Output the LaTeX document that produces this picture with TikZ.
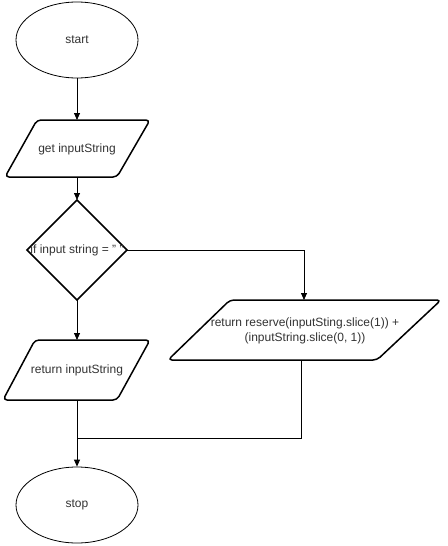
\documentclass[tikz,border=0pt]{standalone}
\usepackage{fontspec}
\setmainfont{Liberation Sans}
\usetikzlibrary{shapes.geometric,arrows.meta}
\begin{document}
\begin{tikzpicture}[x=1pt,y=-1pt,
  txt/.style={font=\fontsize{12}{15}\selectfont, text=black!80, align=center, inner sep=0pt},
  term/.style={ellipse, draw, line width=0.8pt, minimum width=122pt, minimum height=76pt, txt},
  io/.style={draw, line width=1.5pt, rounded corners=4pt, line join=round},
  dec/.style={draw, line width=1.5pt, line join=miter},
  conn/.style={draw, line width=0.8pt, -{Triangle[length=7pt,width=6pt]}},
  plain/.style={draw, line width=0.8pt}]
\useasboundingbox (0,0) rectangle (447,546);
\fill[white] (0,0) rectangle (447,546);
% start / stop
\node[term] (start) at (77,40) {start};
\node[term] (stop) at (77,505) {stop};
% get inputString
\path[io] (37,120) -- (150,120) -- (117,177) -- (5,177) -- cycle;
\node[txt] (get) at (77,149) {get inputString};
\coordinate (getT) at (77,120);
\coordinate (getB) at (77,177);
% decision
\path[dec] (77,200) -- (127,250) -- (77,300) -- (27,250) -- cycle;
\coordinate (decT) at (77,200);
\coordinate (decR) at (127,250);
\coordinate (decB) at (77,300);
\node[txt] (cond) at (77,250) {if input string = " "};
% return inputString
\path[io] (35,340) -- (150,340) -- (117,400) -- (3,400) -- cycle;
\node[txt] (ret) at (77,370) {return inputString};
\coordinate (retT) at (77,340);
\coordinate (retB) at (77,400);
% recursive return
\path[io] (230,300) -- (441,300) -- (377,360) -- (168,360) -- cycle;
\node[txt] (rec) at (305,331) {return reserve(inputSting.slice(1)) +\\(inputString.slice(0, 1))};
\coordinate (recT) at (304,300);
\coordinate (recB) at (301,360);
\coordinate (bend) at (304,250);
\coordinate (join) at (301,438);
\coordinate (joinL) at (77,438);
% connectors
\path[conn] (start.south) -- (getT);
\path[conn] (getB) -- (decT);
\path[conn] (decB) -- (retT);
\path[conn] (decR) -- (bend) -- (recT);
\path[conn] (retB) -- (stop.north);
\path[plain] (recB) -- (join) -- (joinL);
\end{tikzpicture}
\end{document}
